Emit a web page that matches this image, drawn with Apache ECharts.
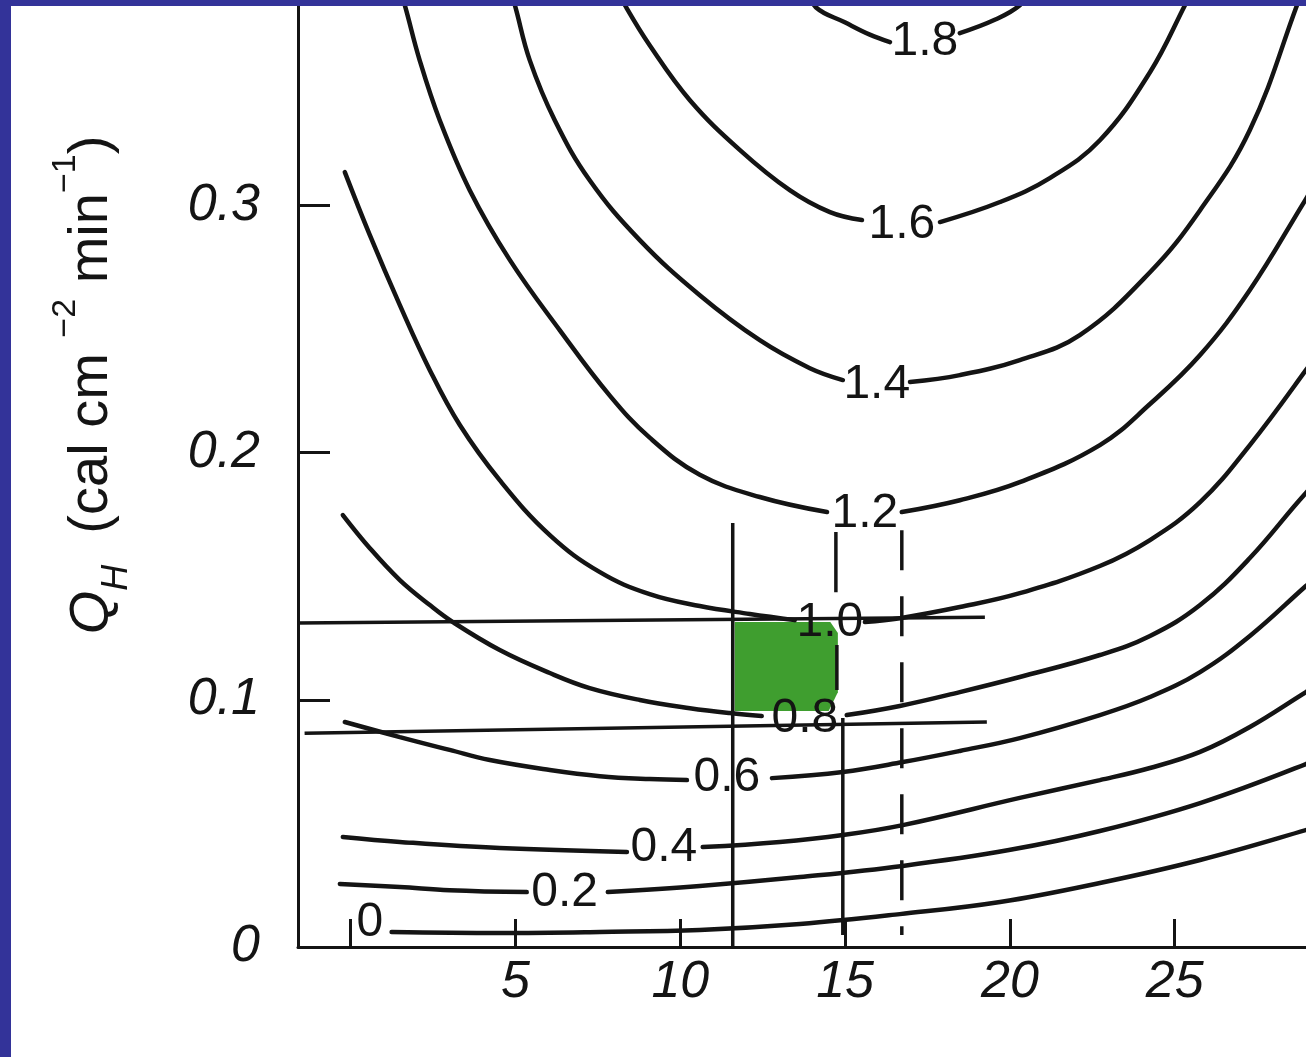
<!DOCTYPE html>
<html>
<head>
<meta charset="utf-8">
<script src="https://cdn.jsdelivr.net/npm/echarts@6/dist/echarts.min.js"></script>
<style>
  html, body { margin:0; padding:0; background:#333399; width:1306px; height:1057px; overflow:hidden; }
  #paper { position:absolute; left:11px; top:6px; width:1295px; height:1051px; background:#ffffff; overflow:hidden; }
  #chart { position:absolute; left:-11px; top:-6px; width:1306px; height:1057px; }
</style>
</head>
<body>
<div id="paper"><div id="chart"></div></div>
<script>
// ---- axis ranges & ticks ----
const xMin = -1.6, xMax = 30;
const yMin = 0, yMax = 0.4;
const xTickValues = [0, 5, 10, 15, 20, 25, 30];
const xLabelValues = [5, 10, 15, 20, 25, 30];
const yTickValues = [0.1, 0.2, 0.3];
const yLabelValues = [0, 0.1, 0.2, 0.3];

// ---- contour lines (left arm / right arm around the inline label) ----
const c00R = [[1.24,0.0061],[4.52,0.0057],[7.56,0.0061],[10.59,0.0069],[13.63,0.0093],[16.66,0.0133],[19.70,0.0182],[22.73,0.0259],[25.77,0.0352],[28.98,0.0473],[29.71,0.0505]];
const c02L = [[-0.33,0.0255],[1.49,0.0243],[3.00,0.0230],[5.34,0.0222]];
const c02R = [[7.80,0.0222],[10.59,0.0247],[13.63,0.0283],[16.75,0.0328],[19.97,0.0392],[22.73,0.0469],[25.77,0.0582],[28.98,0.0740],[29.71,0.0789]];
const c04L = [[-0.24,0.0445],[1.49,0.0425],[4.52,0.0400],[8.38,0.0384]];
const c04R = [[10.68,0.0404],[13.02,0.0425],[14.93,0.0453],[16.75,0.0493],[20.30,0.0603],[22.73,0.0675],[24.25,0.0724],[25.77,0.0789],[27.28,0.0890],[28.98,0.1031],[29.71,0.1090]];
const c06L = [[-0.18,0.0910],[1.49,0.0849],[3.00,0.0797],[4.22,0.0756],[6.04,0.0716],[7.56,0.0691],[9.07,0.0679],[10.20,0.0675]];
const c06R = [[12.78,0.0683],[14.93,0.0708],[16.75,0.0748],[18.48,0.0793],[20.30,0.0845],[22.73,0.0938],[24.25,0.1011],[25.77,0.1112],[27.28,0.1258],[28.98,0.1460],[29.71,0.1545]];
const c08L = [[-0.24,0.1747],[0.58,0.1613],[1.49,0.1484],[2.40,0.1383],[3.10,0.1314],[4.52,0.1201],[6.04,0.1108],[7.25,0.1047],[8.77,0.0999],[10.29,0.0966],[11.50,0.0946],[12.47,0.0934]];
const c08R = [[15.05,0.0938],[16.66,0.0975],[18.48,0.1031],[20.30,0.1092],[22.73,0.1181],[24.25,0.1258],[25.77,0.1383],[27.28,0.1573],[28.98,0.1836],[29.71,0.1929]];
const c10L = [[-0.18,0.3134],[0.58,0.2879],[1.49,0.2596],[2.40,0.2333],[3.31,0.2111],[4.52,0.1888],[6.04,0.1666],[7.56,0.1516],[9.07,0.1427],[10.59,0.1379],[12.11,0.1347],[13.47,0.1322]];
const c10R = [[15.60,0.1314],[16.66,0.1330],[18.48,0.1375],[20.30,0.1431],[22.73,0.1541],[24.25,0.1646],[25.77,0.1799],[27.28,0.2030],[28.98,0.2333],[29.71,0.2475]];
const c12L = [[1.49,0.3870],[1.64,0.3809],[2.09,0.3587],[2.70,0.3344],[3.61,0.3061],[4.83,0.2778],[6.34,0.2495],[7.86,0.2230],[9.07,0.2060],[10.59,0.1910],[12.41,0.1820],[14.45,0.1759]];
const c12R = [[16.72,0.1759],[18.48,0.1807],[20.30,0.1880],[22.73,0.2030],[24.25,0.2196],[25.77,0.2394],[27.28,0.2657],[28.98,0.3025],[29.71,0.3182]];
const c14L = [[4.83,0.3870],[4.98,0.3809],[5.43,0.3587],[6.19,0.3344],[7.25,0.3101],[8.77,0.2859],[10.59,0.2636],[12.41,0.2454],[13.93,0.2341],[14.93,0.2293]];
const c14R = [[16.97,0.2285],[18.48,0.2313],[20.30,0.2374],[22.12,0.2475],[24.25,0.2729],[25.77,0.2980],[27.28,0.3304],[28.71,0.3809],[28.86,0.3870]];
const c16L = [[8.10,0.3870],[8.32,0.3809],[9.07,0.3647],[10.29,0.3425],[11.81,0.3223],[13.32,0.3061],[14.54,0.2972],[15.51,0.2940]];
const c16R = [[17.88,0.2932],[19.70,0.3013],[21.21,0.3110],[22.73,0.3263],[24.25,0.3538],[25.31,0.3809],[25.52,0.3870]];
const c18L = [[13.90,0.3870],[14.11,0.3801],[14.99,0.3740],[15.75,0.3690],[16.36,0.3660]];
const c18R = [[18.48,0.3696],[19.54,0.3750],[20.30,0.3809],[20.60,0.3870]];

// ---- inline contour labels ----
const contourLabels = ['0','0.2','0.4','0.6','0.8','1.0','1.2','1.4','1.6','1.8'];
const labelX = [0.58, 6.49, 9.50, 11.41, 13.78, 14.54, 15.60, 15.96, 16.72, 17.42];
const labelY = [0.0097, 0.0218, 0.0400, 0.0683, 0.0922, 0.1310, 0.1751, 0.2273, 0.2920, 0.3663];

// ---- guide lines ----
const hLineUpper = [[-1.6,0.1310],[19.24,0.1334]];
const hLineLower = [[-1.40,0.0865],[19.30,0.0910]];
const vLineA = [[11.59,0.1715],[11.59,0.0]];
const vLineB1 = [[14.72,0.1678],[14.72,0.1435]];
const vLineB2 = [[14.75,0.1221],[14.75,0.1039]];
const vLineB3 = [[14.93,0.0926],[14.93,0.0049]];
const vLineC = [[16.72,0.1686],[16.72,0.0049]];

// ---- shaded (green) region ----
const greenBox = [[11.65,0.1314],[14.55,0.1314],[14.78,0.1270],[14.78,0.1030],[14.50,0.0955],[11.65,0.0955]];

const INK = '#141414';
const FONT = "'Liberation Sans', Arial, sans-serif";

const contourArms = [c00R, c02L, c02R, c04L, c04R, c06L, c06R, c08L, c08R, c10L, c10R, c12L, c12R, c14L, c14R, c16L, c16R, c18L, c18R];

const series = [];
series.push({
  type: 'custom',
  z: 1,
  silent: true,
  data: [greenBox[0]],
  renderItem: function (params, api) {
    return {
      type: 'polygon',
      shape: { points: greenBox.map(function (p) { return api.coord(p); }) },
      style: { fill: '#3f9e2f' }
    };
  }
});
contourArms.forEach(function (arm) {
  series.push({
    type: 'line', data: arm, smooth: 0.4, symbol: 'none', z: 3, silent: true,
    lineStyle: { color: INK, width: 4.5, cap: 'round' }
  });
});
[hLineUpper, hLineLower, vLineA, vLineB1, vLineB2, vLineB3].forEach(function (seg) {
  series.push({
    type: 'line', data: seg, symbol: 'none', z: 2, silent: true,
    lineStyle: { color: INK, width: 3.5 }
  });
});
series.push({
  type: 'line', data: vLineC, symbol: 'none', z: 2, silent: true,
  lineStyle: { color: INK, width: 3.5, type: [40, 26] }
});
series.push({
  type: 'scatter', z: 5, silent: true, symbolSize: 0,
  itemStyle: { opacity: 1, color: INK },
  data: contourLabels.map(function (t, i) { return [labelX[i], labelY[i], t]; }),
  label: {
    show: true, position: 'inside', opacity: 1,
    formatter: function (p) { return p.value[2]; },
    fontFamily: FONT, fontSize: 48, color: INK, textBorderWidth: 0
  }
});

const chart = echarts.init(document.getElementById('chart'), null, { renderer: 'canvas' });
chart.setOption({
  animation: false,
  backgroundColor: 'transparent',
  grid: { left: 298, right: -33.5, top: -42, bottom: 110, containLabel: false, outerBoundsMode: 'none' },
  xAxis: {
    type: 'value', min: xMin, max: xMax,
    splitLine: { show: false },
    axisLine: { onZero: false, lineStyle: { color: INK, width: 3 } },
    axisTick: { inside: true, length: 28, customValues: xTickValues, lineStyle: { color: INK, width: 3 } },
    axisLabel: { customValues: xLabelValues, margin: 10, fontFamily: FONT, fontStyle: 'italic', fontSize: 52, color: INK }
  },
  yAxis: {
    type: 'value', min: yMin, max: yMax,
    splitLine: { show: false },
    axisLine: { onZero: false, lineStyle: { color: INK, width: 3 } },
    axisTick: { inside: true, length: 32, customValues: yTickValues, lineStyle: { color: INK, width: 3 } },
    axisLabel: { customValues: yLabelValues, margin: 38, fontFamily: FONT, fontStyle: 'italic', fontSize: 52, color: INK }
  },
  graphic: [{
    type: 'text',
    x: 92, y: 385,
    rotation: Math.PI / 2,
    silent: true,
    style: {
      text: '{q|Q}{sub|H}{n|  (cal cm }{sup|\u22122}{n| min}{sup|\u22121}{n|)}',
      align: 'center', verticalAlign: 'middle',
      fill: INK,
      rich: {
        q: { fontFamily: FONT, fontSize: 56, fontStyle: 'italic', lineHeight: 86, verticalAlign: 'middle', fill: INK },
        sub: { fontFamily: FONT, fontSize: 36, fontStyle: 'italic', lineHeight: 42, verticalAlign: 'bottom', fill: INK },
        n: { fontFamily: FONT, fontSize: 56, lineHeight: 86, verticalAlign: 'middle', fill: INK },
        sup: { fontFamily: FONT, fontSize: 34, lineHeight: 36, verticalAlign: 'top', fill: INK }
      }
    }
  }],
  series: series
});
</script>
</body>
</html>
